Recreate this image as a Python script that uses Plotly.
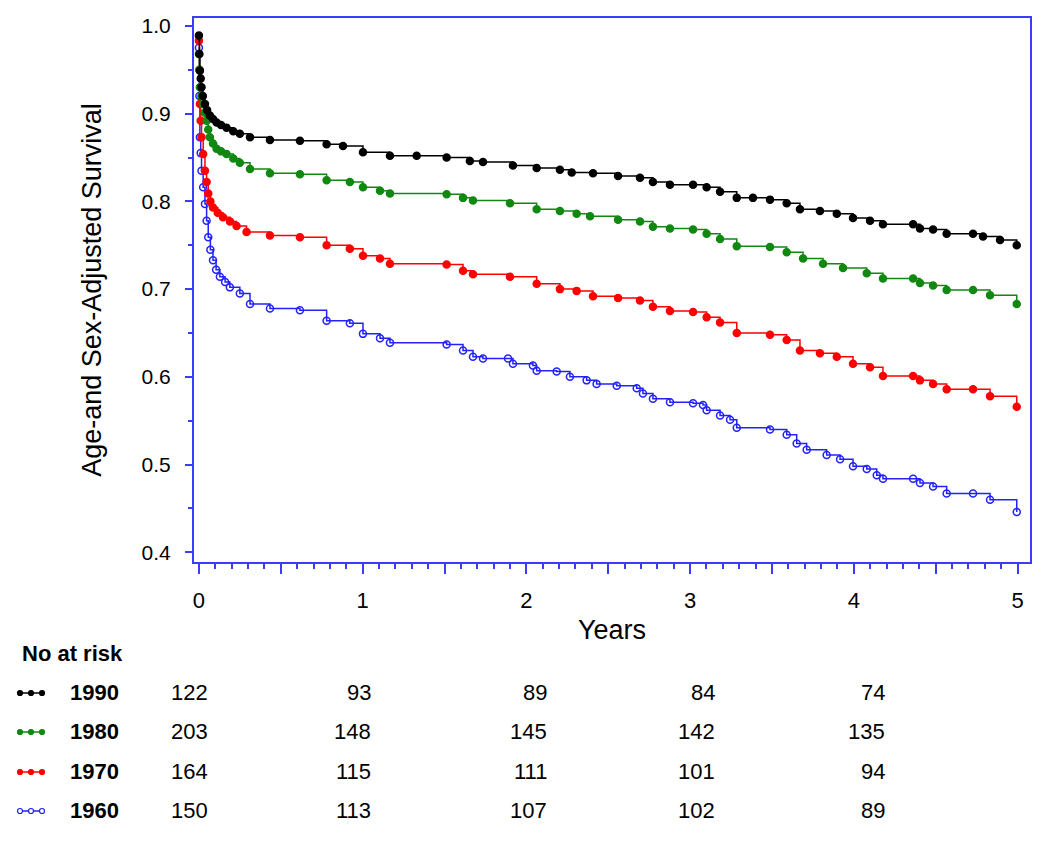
import plotly.graph_objects as go

# survival curves (years, adjusted survival)
t_1990 = [0, 0.003, 0.006, 0.011, 0.016, 0.024, 0.037, 0.05, 0.067, 0.086, 0.108, 0.135, 0.169,
          0.21, 0.25, 0.312, 0.434, 0.617, 0.78, 0.88,
          1.002, 1.167, 1.33, 1.513, 1.655, 1.735, 1.918, 2.063, 2.205, 2.277, 2.407, 2.56,
          2.694, 2.773, 2.877, 3.018, 3.101, 3.183, 3.285, 3.384, 3.488, 3.59, 3.671, 3.793,
          3.896, 3.995, 4.099, 4.178, 4.362, 4.404, 4.484, 4.567, 4.728, 4.789, 4.893, 4.995]
s_1990 = [0.989, 0.968, 0.949, 0.940, 0.930, 0.920, 0.911, 0.904, 0.898, 0.894, 0.890, 0.887, 0.884,
          0.880, 0.877, 0.873, 0.870, 0.869, 0.865, 0.863,
          0.856, 0.852, 0.852, 0.850, 0.846, 0.845, 0.841, 0.838, 0.836, 0.833, 0.832, 0.829,
          0.827, 0.822, 0.819, 0.819, 0.816, 0.811, 0.804, 0.804, 0.802, 0.798, 0.791, 0.789,
          0.786, 0.781, 0.778, 0.774, 0.774, 0.769, 0.768, 0.763, 0.763, 0.760, 0.756, 0.750]

t_1980 = [0, 0.003, 0.006, 0.015, 0.024, 0.035, 0.047, 0.057, 0.067, 0.086, 0.108, 0.135, 0.169,
          0.21, 0.25, 0.312, 0.434, 0.617, 0.78, 0.922,
          1.002, 1.106, 1.167, 1.513, 1.613, 1.674, 1.9, 2.063, 2.205, 2.307, 2.389, 2.56,
          2.694, 2.773, 2.877, 3.018, 3.101, 3.183, 3.285, 3.488, 3.59, 3.69, 3.812, 3.934,
          4.079, 4.178, 4.362, 4.404, 4.484, 4.567, 4.728, 4.832, 4.995]
s_1980 = [0.968, 0.950, 0.930, 0.920, 0.911, 0.901, 0.892, 0.882, 0.873, 0.866, 0.860, 0.857, 0.854,
          0.849, 0.844, 0.837, 0.832, 0.831, 0.824, 0.822,
          0.816, 0.812, 0.809, 0.808, 0.804, 0.801, 0.798, 0.791, 0.789, 0.786, 0.783, 0.779,
          0.777, 0.771, 0.769, 0.768, 0.763, 0.757, 0.749, 0.748, 0.742, 0.735, 0.729, 0.724,
          0.718, 0.712, 0.712, 0.707, 0.704, 0.699, 0.699, 0.693, 0.683]

t_1970 = [0, 0.003, 0.006, 0.011, 0.016, 0.026, 0.037, 0.047, 0.057, 0.07, 0.086, 0.115, 0.147,
          0.19, 0.23, 0.291, 0.434, 0.617, 0.78, 0.922,
          1.002, 1.106, 1.167, 1.513, 1.613, 1.674, 1.9, 2.063, 2.205, 2.307, 2.407, 2.56,
          2.694, 2.773, 2.877, 3.018, 3.101, 3.183, 3.285, 3.488, 3.59, 3.671, 3.793, 3.896,
          3.995, 4.099, 4.178, 4.362, 4.404, 4.484, 4.567, 4.728, 4.832, 4.995]
s_1970 = [0.983, 0.950, 0.911, 0.892, 0.873, 0.854, 0.835, 0.822, 0.809, 0.800, 0.793, 0.787, 0.782,
          0.777, 0.772, 0.765, 0.761, 0.759, 0.750, 0.746,
          0.738, 0.735, 0.729, 0.728, 0.721, 0.717, 0.714, 0.706, 0.700, 0.698, 0.692, 0.690,
          0.687, 0.680, 0.675, 0.674, 0.668, 0.662, 0.650, 0.648, 0.642, 0.630, 0.627, 0.623,
          0.615, 0.611, 0.601, 0.601, 0.596, 0.592, 0.586, 0.586, 0.578, 0.566]

t_1960 = [0, 0.003, 0.006, 0.011, 0.016, 0.026, 0.037, 0.047, 0.057, 0.07, 0.086, 0.105, 0.128,
          0.16, 0.189, 0.25, 0.312, 0.434, 0.617, 0.78,
          0.922, 1.002, 1.106, 1.167, 1.513, 1.613, 1.674, 1.735, 1.888, 1.918, 2.04, 2.063,
          2.185, 2.266, 2.368, 2.429, 2.552, 2.674, 2.712, 2.773, 2.877, 3.018, 3.079, 3.101,
          3.183, 3.244, 3.285, 3.488, 3.59, 3.651, 3.712, 3.834, 3.916, 3.995, 4.079, 4.14,
          4.178, 4.362, 4.404, 4.484, 4.567, 4.728, 4.832, 4.995]
s_1960 = [0.975, 0.920, 0.873, 0.855, 0.835, 0.816, 0.797, 0.778, 0.759, 0.745, 0.733, 0.722, 0.714,
          0.708, 0.702, 0.695, 0.683, 0.678, 0.676, 0.664,
          0.661, 0.649, 0.644, 0.639, 0.637, 0.630, 0.623, 0.621, 0.621, 0.615, 0.613, 0.607,
          0.606, 0.600, 0.596, 0.592, 0.590, 0.587, 0.581, 0.575, 0.571, 0.570, 0.568, 0.562,
          0.556, 0.551, 0.542, 0.540, 0.534, 0.524, 0.517, 0.511, 0.506, 0.498, 0.495, 0.488,
          0.484, 0.484, 0.479, 0.475, 0.467, 0.467, 0.460, 0.446]

cohorts = ["1990", "1980", "1970", "1960"]
at_risk = {
    "1990": [122, 93, 89, 84, 74],
    "1980": [203, 148, 145, 142, 135],
    "1970": [164, 115, 111, 101, 94],
    "1960": [150, 113, 107, 102, 89],
}

colors = {"1990": "#000000", "1980": "#118811", "1970": "#ff0000", "1960": "#2222ff"}
symbols = {"1990": "circle", "1980": "circle", "1970": "circle", "1960": "circle-open"}
curves = {"1990": (t_1990, s_1990), "1980": (t_1980, s_1980),
          "1970": (t_1970, s_1970), "1960": (t_1960, s_1960)}

FONT = "Liberation Sans, Arial, sans-serif"
AXIS_BLUE = "#3c3cff"

fig = go.Figure()
for name in ["1960", "1970", "1980", "1990"]:
    t, s = curves[name]
    fig.add_trace(go.Scatter(
        x=t, y=s, mode="lines+markers", name=name, line_shape="hv",
        line=dict(color=colors[name], width=1.5),
        marker=dict(color=colors[name], symbol=symbols[name], size=7,
                    line=dict(color=colors[name], width=1.5)),
        showlegend=False,
    ))

fig.update_xaxes(
    range=[-0.03, 5.076], tickvals=[0, 0.5, 1, 1.5, 2, 2.5, 3, 3.5, 4, 4.5, 5],
    ticktext=["0", "", "1", "", "2", "", "3", "", "4", "", "5"],
    ticks="outside", ticklen=10, tickwidth=2, tickcolor=AXIS_BLUE,
    minor=dict(dtick=0.1, tick0=0, ticks="outside", ticklen=5, tickwidth=2, tickcolor=AXIS_BLUE),
    showline=True, linecolor=AXIS_BLUE, linewidth=2, mirror=True,
    showgrid=False, zeroline=False, ticklabelstandoff=8, automargin=False,
    tickfont=dict(size=22, color="black", family=FONT),
    title=dict(text="Years", font=dict(size=27, color="black", family=FONT), standoff=8),
)
fig.update_yaxes(
    range=[0.389, 1.009], dtick=0.1, tick0=0.4, tickformat=".1f",
    ticks="outside", ticklen=7, tickwidth=2, tickcolor=AXIS_BLUE,
    minor=dict(dtick=0.05, ticks="outside", ticklen=4, tickwidth=2, tickcolor=AXIS_BLUE),
    showline=True, linecolor=AXIS_BLUE, linewidth=2, mirror=True,
    showgrid=False, zeroline=False, ticklabelstandoff=10, automargin=False,
    tickfont=dict(size=21, color="black", family=FONT),
    title=dict(text="Age-and Sex-Adjusted Survival",
               font=dict(size=27, color="black", family=FONT), standoff=32),
)

# the page body adds an 8px offset, so the layout is built 8px smaller
OFFSET = 8
PLOT_L, PLOT_W, PLOT_T, PLOT_H = 194 - OFFSET, 836, 18 - OFFSET, 544
FIG_W, FIG_H = 1050 - OFFSET, 845 - OFFSET


# number-at-risk table below the plot (paper coordinates, from target pixel positions)
def px_x(px):
    return (px - OFFSET - PLOT_L) / PLOT_W


def px_y(py):
    return (PLOT_T + PLOT_H - (py - OFFSET)) / PLOT_H


col_right = [210, 373, 549, 717, 887]
row_y = [692, 731, 771, 810]

fig.add_annotation(x=px_x(20), y=px_y(653), xref="paper", yref="paper", text="<b>No at risk</b>",
                   showarrow=False, xanchor="left", yanchor="middle",
                   font=dict(size=22, color="black", family=FONT))
for name, py in zip(cohorts, row_y):
    fig.add_annotation(x=px_x(68), y=px_y(py), xref="paper", yref="paper", text=f"<b>{name}</b>",
                       showarrow=False, xanchor="left", yanchor="middle",
                       font=dict(size=22, color="black", family=FONT))
    for cx, n in zip(col_right, at_risk[name]):
        fig.add_annotation(x=px_x(cx), y=px_y(py), xref="paper", yref="paper", text=str(n),
                           showarrow=False, xanchor="right", yanchor="middle",
                           font=dict(size=22, color="black", family=FONT))
    # little legend glyph: line with three dots
    fig.add_shape(type="line", xref="paper", yref="paper", x0=px_x(18), x1=px_x(44),
                  y0=px_y(py + 1), y1=px_y(py + 1), line=dict(color=colors[name], width=1.5))
    for dx in (20, 31, 42):
        fig.add_shape(type="circle", xref="paper", yref="paper",
                      x0=px_x(dx - 2.5), x1=px_x(dx + 2.5), y0=px_y(py + 3.5), y1=px_y(py - 1.5),
                      line=dict(color=colors[name], width=1.2),
                      fillcolor="white" if name == "1960" else colors[name])

fig.update_layout(
    width=FIG_W, height=FIG_H,
    margin=dict(l=PLOT_L, r=FIG_W - PLOT_L - PLOT_W, t=PLOT_T, b=FIG_H - PLOT_T - PLOT_H),
    paper_bgcolor="white", plot_bgcolor="white",
    font=dict(family=FONT, color="black"),
)

fig.write_html("out.html")
